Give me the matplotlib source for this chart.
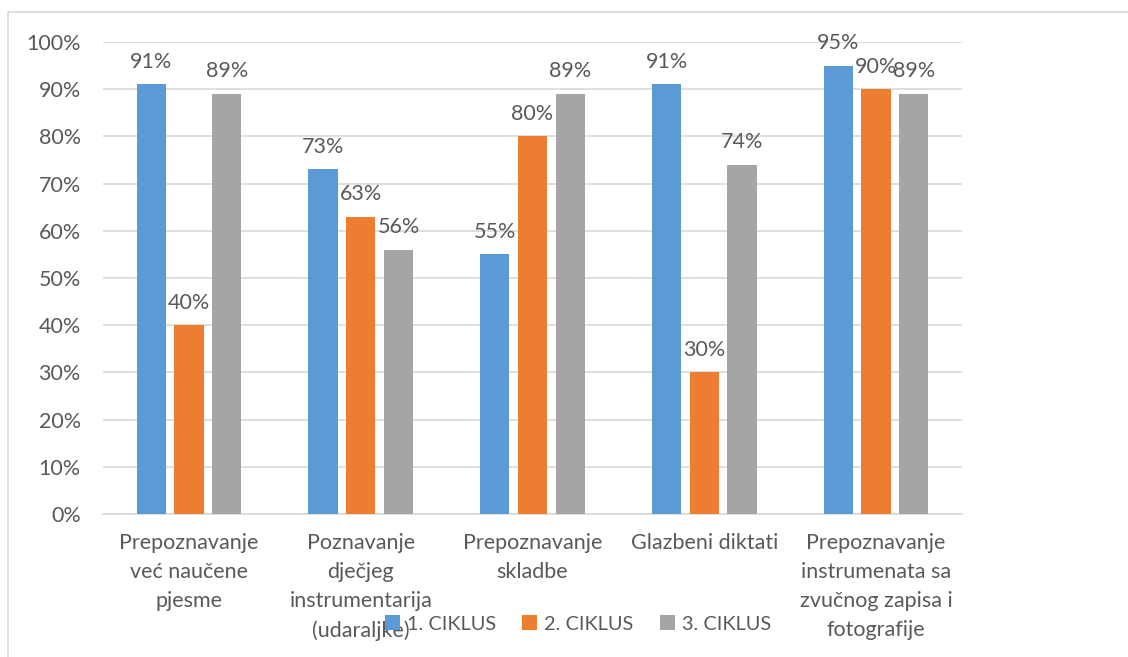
import numpy as np
import matplotlib.pyplot as plt
from matplotlib.patches import Rectangle

plt.rcParams['font.family'] = ['Lato', 'DejaVu Sans']

categories = [
    'Prepoznavanje\nveć naučene\npjesme',
    'Poznavanje\ndječjeg\ninstrumentarija\n(udaraljke)',
    'Prepoznavanje\nskladbe',
    'Glazbeni diktati',
    'Prepoznavanje\ninstrumenata sa\nzvučnog zapisa i\nfotografije',
]
series_names = ['1. CIKLUS', '2. CIKLUS', '3. CIKLUS']
ciklus1 = [91, 73, 55, 91, 95]
ciklus2 = [40, 63, 80, 30, 90]
ciklus3 = [89, 56, 89, 74, 89]
colors = ['#5b9bd5', '#ed7d31', '#a5a5a5']

text_color = '#595959'
grid_color = '#d9d9d9'
fs = 15.5

W, H = 1128, 657
fig = plt.figure(figsize=(W / 100, H / 100), dpi=100)
ax = fig.add_axes([103 / W, (H - 514) / H, (962 - 103) / W, (514 - 42) / H])

# light frame around the chart
fig.patches.append(Rectangle((8 / W, -0.01), 1.2, (H - 12) / H + 0.01,
                             transform=fig.transFigure, fill=False,
                             edgecolor=grid_color, linewidth=1.2))

x = np.arange(len(categories))
width = 0.17
step = 0.22
for i, (vals, name) in enumerate(zip([ciklus1, ciklus2, ciklus3], series_names)):
    pos = x + (i - 1) * step
    bars = ax.bar(pos, vals, width, color=colors[i], label=name, zorder=3)
    for b, v in zip(bars, vals):
        ax.annotate(f'{v}%', (b.get_x() + b.get_width() / 2, v),
                    xytext=(0, 9), textcoords='offset points',
                    ha='center', va='bottom', fontsize=fs, color=text_color)

ax.set_xlim(-0.5, len(categories) - 0.5)
ax.set_ylim(0, 100)
ax.set_yticks(range(0, 101, 10))
ax.set_yticklabels([f'{t}%' for t in range(0, 101, 10)])
ax.set_xticks(x)
ax.set_xticklabels(categories, linespacing=1.55, va='top')

ax.grid(axis='y', color=grid_color, linewidth=1.2, zorder=0)
for s in ['top', 'right', 'left']:
    ax.spines[s].set_visible(False)
ax.spines['bottom'].set_color(grid_color)
ax.spines['bottom'].set_linewidth(1.2)
ax.tick_params(axis='both', length=0, labelsize=fs, colors=text_color)
ax.tick_params(axis='x', pad=14)
ax.tick_params(axis='y', pad=16)

fig.legend(loc='center', bbox_to_anchor=(578 / W, 1 - 624 / H), ncol=3,
           frameon=False, fontsize=14.3, labelcolor=text_color,
           handlelength=0.75, handleheight=0.75, handletextpad=0.35,
           columnspacing=1.35)

fig.savefig('out.png', dpi=100)
